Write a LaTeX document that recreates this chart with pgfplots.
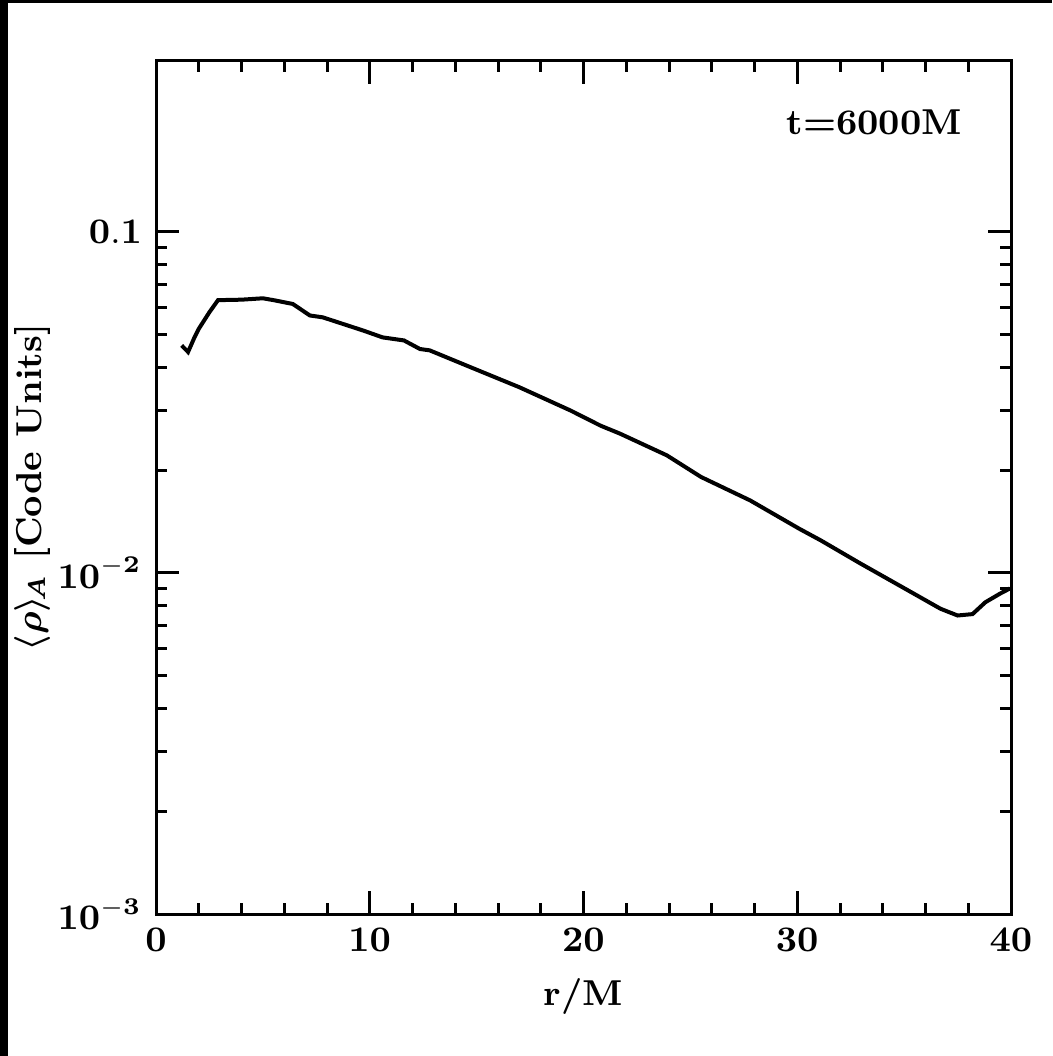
\documentclass[border=0pt]{standalone}
\usepackage{pgfplots}
\usepackage{bm}
\pgfplotsset{compat=1.18}
\begin{document}
\begin{tikzpicture}
\path[use as bounding box, fill=white] (0pt,0pt) rectangle (263pt,264pt);
\fill[black] (0pt,0pt) rectangle (2pt,264pt);
\fill[black] (0pt,263.25pt) rectangle (263pt,264pt);
\begin{axis}[
  at={(39pt,35.5pt)}, anchor=south west,
  scale only axis,
  width=213.75pt, height=213.25pt,
  ymode=log,
  xmin=0, xmax=40,
  ymin=0.001, ymax=0.3165,
  xtick={0,10,20,30,40},
  minor x tick num=4,
  ytick={0.001,0.01,0.1},
  yticklabels={$\mathbf{10^{-3}}$,$\mathbf{10^{-2}}$,$\mathbf{0.1}$},
  xticklabels={$\mathbf{0}$,$\mathbf{10}$,$\mathbf{20}$,$\mathbf{30}$,$\mathbf{40}$},
  tick label style={font=\fontsize{9}{10}\selectfont},
  major tick length=5.75pt,
  minor tick length=2.8pt,
  axis line style={line width=0.75pt},
  every tick/.style={black, line width=0.75pt},
  tick align=inside,
  xlabel={\bfseries r/M},
  ylabel={\bfseries $\bm{\langle\rho\rangle_{\!A}}$ [Code Units]},
  label style={font=\fontsize{9}{10}\selectfont},
  xlabel style={yshift=0pt},
  ylabel style={yshift=-5pt},
  clip=true,
]
\addplot[black, line width=1pt] coordinates {
(1.2,0.0464) (1.5,0.0444) (1.8,0.0490) (2.0,0.0519) (2.5,0.0581) (2.9,0.0630)
(4.0,0.0632) (5.0,0.0638) (5.5,0.0630) (6.4,0.0614) (7.2,0.0568) (7.8,0.0561)
(9.7,0.0513) (10.6,0.0490) (11.6,0.0480) (12.35,0.0453) (12.8,0.0449)
(14.7,0.0401) (17.0,0.0350) (19.4,0.0299) (20.8,0.0270) (21.7,0.0256)
(23.9,0.0221) (25.5,0.0191) (27.8,0.0163) (30.1,0.01346) (31.1,0.01245)
(32.9,0.0107) (35.3,0.0088) (36.7,0.00785) (37.5,0.0075) (38.2,0.00757)
(38.8,0.0082) (39.5,0.0087) (39.95,0.0090)
};
\node[font=\bfseries\fontsize{9}{10}\selectfont] at (axis cs:33.6,0.2085) {t=6000M};
\end{axis}
\end{tikzpicture}
\end{document}
